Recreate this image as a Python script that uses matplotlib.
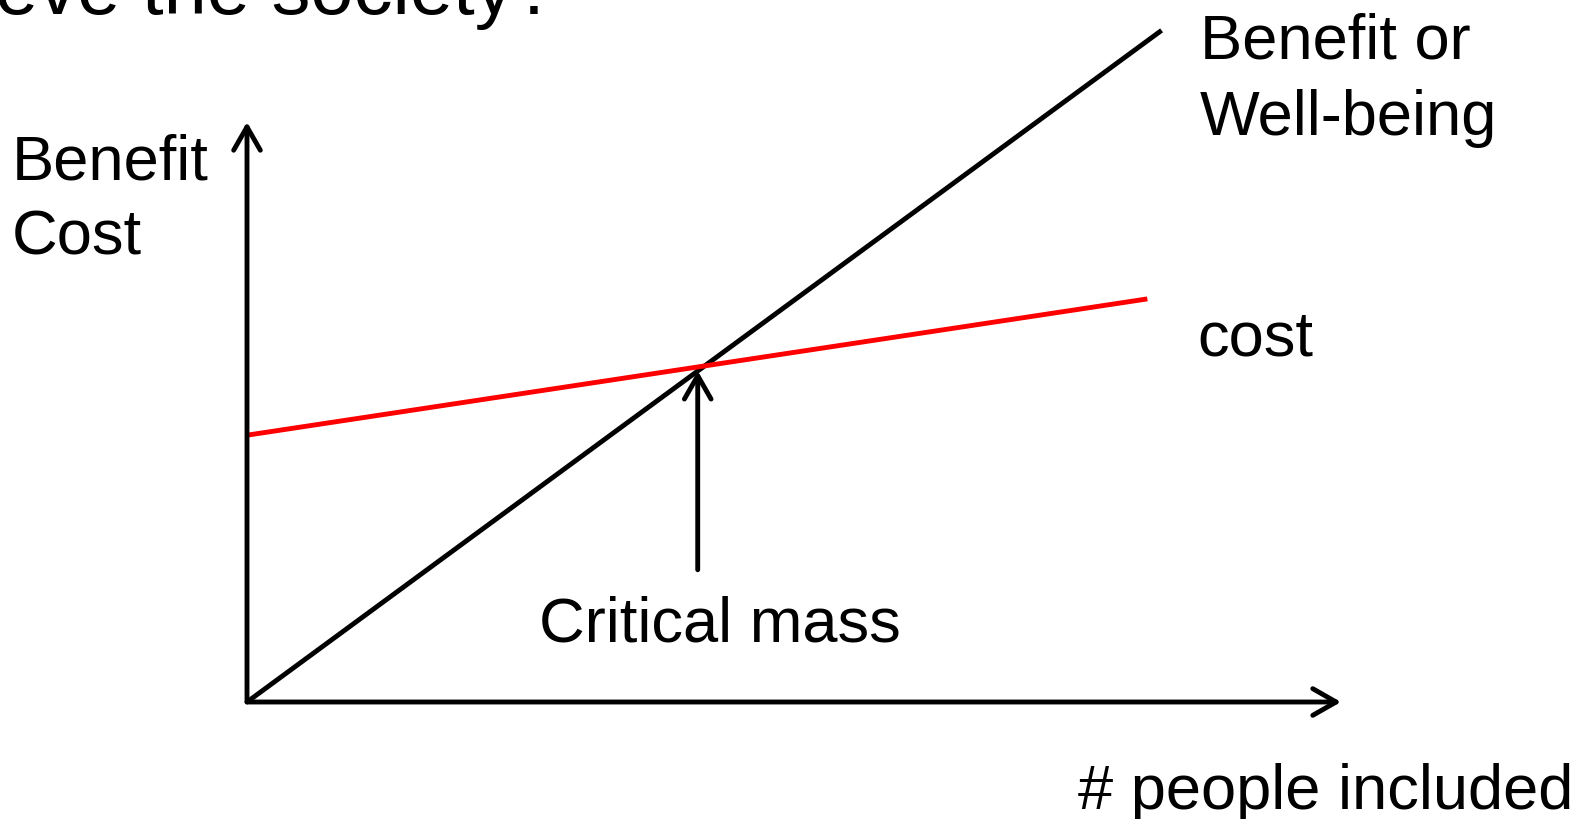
import numpy as np
import matplotlib.pyplot as plt

plt.rcParams['font.family'] = ['Liberation Sans', 'DejaVu Sans']

# line end points in chart units (x: people, y: benefit / cost)
benefit_x = [0.0, 8.36]
benefit_y = [0.0, 11.58]
cost_x = [0.0, 8.23]
cost_y = [4.60, 6.95]
critical_x = 4.12
critical_from = 2.28
critical_to = 5.71

fig = plt.figure(figsize=(15.95, 8.19), dpi=100)
ax = fig.add_axes([247 / 1595, 117 / 819, 1094 / 1595, 580 / 819])
ax.set_xlim(0, 10)
ax.set_ylim(0, 10)
ax.axis('off')

lw = 3.5
arrow = dict(arrowstyle='->,head_length=0.42,head_width=0.24', lw=lw,
             color='black', mutation_scale=40, shrinkA=0, shrinkB=0)

# axes
ax.annotate('', xy=(10, 0), xytext=(0, 0), arrowprops=arrow, annotation_clip=False)
ax.annotate('', xy=(0, 10), xytext=(0, 0), arrowprops=arrow, annotation_clip=False)

ax.plot(benefit_x, benefit_y, color='black', lw=lw, clip_on=False, solid_capstyle='butt')
ax.plot(cost_x, cost_y, color='#ff0000', lw=lw, clip_on=False, solid_capstyle='butt')

ax.annotate('', xy=(critical_x, critical_to), xytext=(critical_x, critical_from),
            arrowprops=arrow, annotation_clip=False)

fs = 45.5
ax.text(-2.30, 11.86, 'eve the society?', fontsize=56, va='baseline', clip_on=False)
ax.text(-2.147, 9.0, 'Benefit', fontsize=fs, va='baseline')
ax.text(-2.147, 7.72, 'Cost', fontsize=fs, va='baseline')
ax.text(8.71, 11.10, 'Benefit or', fontsize=fs, va='baseline')
ax.text(8.71, 9.78, 'Well-being', fontsize=fs, va='baseline')
ax.text(8.69, 5.97, 'cost', fontsize=fs, va='baseline')
ax.text(2.67, 1.05, 'Critical mass', fontsize=fs, va='baseline')
ax.text(7.60, -1.845, '# people included', fontsize=fs, va='baseline')

fig.savefig('out.png', dpi=100)
